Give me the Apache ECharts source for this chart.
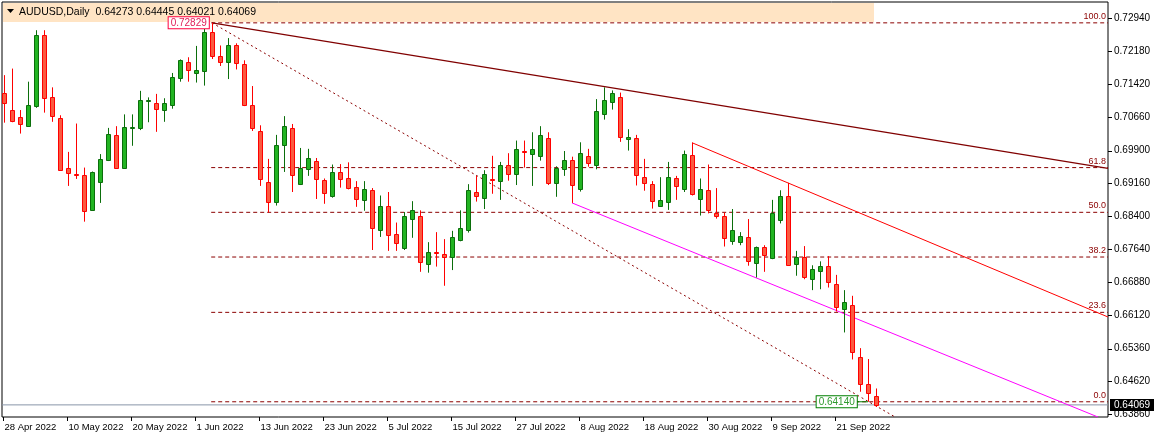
<!DOCTYPE html>
<html><head><meta charset="utf-8">
<script src="https://cdn.jsdelivr.net/npm/echarts@6/dist/echarts.min.js"></script>
<style>html,body{margin:0;padding:0;background:#fff}#c{width:1154px;height:438px}</style>
</head><body><div id="c"></div>
<script>
// ---- data ----
const dateLabels = ['28 Apr 2022','10 May 2022','20 May 2022','1 Jun 2022','13 Jun 2022','23 Jun 2022','5 Jul 2022','15 Jul 2022','27 Jul 2022','8 Aug 2022','18 Aug 2022','30 Aug 2022','9 Sep 2022','21 Sep 2022'];
const dateLabelIdx = [0,8,16,24,32,40,48,56,64,72,80,88,96,104];
const opens  = [0.7123,0.7083,0.7068,0.7047,0.7093,0.7256,0.7112,0.7065,0.6949,0.6936,0.6933,0.6854,0.6919,0.6968,0.7025,0.6951,0.7042,0.7042,0.7105,0.7100,0.7084,0.7095,0.7157,0.7194,0.7169,0.7172,0.7263,0.7208,0.7192,0.7231,0.7188,0.7094,0.7034,0.6919,0.6871,0.7002,0.7042,0.6914,0.6947,0.6965,0.6922,0.6887,0.6940,0.6926,0.6906,0.6876,0.6899,0.6807,0.6864,0.6798,0.6766,0.6834,0.6841,0.6731,0.6757,0.6754,0.6745,0.6784,0.6807,0.6894,0.6882,0.6925,0.6921,0.6957,0.6937,0.6990,0.6983,0.6977,0.7018,0.6916,0.6947,0.6968,0.6903,0.6977,0.6956,0.7074,0.7102,0.7112,0.7016,0.7018,0.6929,0.6913,0.6862,0.6871,0.6926,0.6903,0.6979,0.6880,0.6899,0.6848,0.6839,0.6782,0.6780,0.6791,0.6733,0.6768,0.6744,0.6830,0.6887,0.6731,0.6747,0.6695,0.6713,0.6725,0.6683,0.6626,0.6635,0.6516,0.6454,0.64273];
const highs  = [0.7163,0.7178,0.7083,0.7148,0.7266,0.7266,0.7135,0.7071,0.6987,0.7052,0.6951,0.6942,0.6982,0.7042,0.7046,0.7073,0.7073,0.7127,0.7112,0.7120,0.7110,0.7168,0.7199,0.7204,0.7230,0.7270,0.72829,0.7231,0.7248,0.7236,0.7197,0.7138,0.7048,0.6971,0.7026,0.7069,0.7051,0.6996,0.6994,0.6973,0.6926,0.6958,0.6959,0.6963,0.6920,0.6920,0.6904,0.6887,0.6895,0.6825,0.6849,0.6874,0.6853,0.6780,0.6803,0.6787,0.6806,0.6853,0.6913,0.6932,0.6945,0.6978,0.6964,0.6984,0.7013,0.7013,0.7032,0.7046,0.7032,0.6954,0.6989,0.6976,0.7009,0.6994,0.7108,0.7135,0.7128,0.7123,0.7039,0.7026,0.6971,0.6920,0.6929,0.6964,0.6932,0.6990,0.7008,0.6926,0.6958,0.6904,0.6848,0.6856,0.6803,0.6833,0.6770,0.6773,0.6877,0.6899,0.6916,0.6760,0.6771,0.6727,0.6736,0.6748,0.6705,0.6670,0.6657,0.6537,0.6512,0.64445];
const lows   = [0.7054,0.7055,0.7029,0.7045,0.7088,0.7077,0.7056,0.6944,0.6909,0.6925,0.6827,0.6852,0.6870,0.6966,0.6948,0.6951,0.7001,0.7037,0.7055,0.7033,0.7056,0.7086,0.7148,0.7148,0.7146,0.7139,0.7200,0.7184,0.7154,0.7176,0.7092,0.7035,0.6909,0.6848,0.6864,0.6941,0.6895,0.6911,0.6932,0.6879,0.6868,0.6882,0.6905,0.6901,0.6861,0.6852,0.6762,0.6792,0.6760,0.6760,0.6762,0.6790,0.6712,0.6710,0.6724,0.6680,0.6716,0.6782,0.6802,0.6873,0.6856,0.6891,0.6877,0.6921,0.6911,0.6951,0.6909,0.6967,0.6911,0.6884,0.6932,0.6870,0.6896,0.6953,0.6947,0.7061,0.7084,0.7010,0.6990,0.6910,0.6898,0.6857,0.6861,0.6854,0.6877,0.6895,0.6887,0.6841,0.6846,0.6834,0.6770,0.6774,0.6773,0.6726,0.6699,0.6712,0.6741,0.6823,0.6726,0.6703,0.6695,0.6670,0.6672,0.6676,0.6621,0.6573,0.6511,0.6437,0.6414,0.64021];
const closes = [0.7098,0.7058,0.7050,0.7094,0.7256,0.7111,0.7070,0.6945,0.6938,0.6935,0.6852,0.6940,0.6970,0.7029,0.6951,0.7045,0.7044,0.7107,0.7107,0.7086,0.7098,0.7158,0.7197,0.7175,0.7174,0.7263,0.7208,0.7192,0.7231,0.7190,0.7095,0.7042,0.6925,0.6871,0.7002,0.7046,0.6935,0.6951,0.6972,0.6925,0.6892,0.6942,0.6924,0.6905,0.6878,0.6903,0.6813,0.6864,0.6796,0.6777,0.6839,0.6853,0.6735,0.6757,0.6756,0.6747,0.6791,0.6812,0.6899,0.6887,0.6936,0.6924,0.6957,0.6937,0.6993,0.6989,0.6993,0.7025,0.6916,0.6949,0.6968,0.6910,0.6984,0.6961,0.7080,0.7106,0.7121,0.7022,0.7022,0.6935,0.6915,0.6874,0.6876,0.6929,0.6908,0.6982,0.6890,0.6901,0.6853,0.6841,0.6789,0.6808,0.6793,0.6736,0.6768,0.6750,0.6847,0.6887,0.6728,0.6745,0.6699,0.6718,0.6726,0.6688,0.6631,0.6642,0.6527,0.6454,0.6433,0.64069];
const yTicks = [0.72940,0.72180,0.71420,0.70660,0.69900,0.69160,0.68400,0.67640,0.66880,0.66120,0.65360,0.64620,0.63860];
const yTickLabels = ['0.72940','0.72180','0.71420','0.70660','0.69900','0.69160','0.68400','0.67640','0.66880','0.66120','0.65360','0.64620','0.63860'];
const fibHigh = 0.72829, fibLow = 0.64140;
const fibRatios = [1.0, 0.618, 0.5, 0.382, 0.236, 0.0];
const fibLabels = ['100.0','61.8','50.0','38.2','23.6','0.0'];
const lastPrice = 0.64069;
const header = 'AUDUSD,Daily  0.64273 0.64445 0.64021 0.64069';
const darkTrend = [[26, 0.72829],[138, 0.69494]];
const dottedTrend = [[26, 0.72829],[111.4, 0.6379]];
const redTrend = [[86, 0.7008],[138, 0.66084]];
const magentaTrend = [[71, 0.6870],[136.75, 0.6379]];

const XMIN = -0.25, XMAX = 138, YMIN = 0.63791, YMAX = 0.73307;
const candles = opens.map((o,i)=>[i,o,highs[i],lows[i],closes[i]]);
const FONT = 'Liberation Sans';

const chart = echarts.init(document.getElementById('c'));
function lineSeries(pts, color, type, width){
  return {type:'line', data:pts, symbol:'none', silent:true, animation:false, z:2,
    lineStyle:{color:color, width:width||1, type:type||'solid'}};
}
const fibSeries = fibRatios.map(r=>{
  const p = fibLow + r*(fibHigh-fibLow);
  return lineSeries([[25.9,p],[XMAX,p]], '#8b0000', [4,3], 1);
});
const option = {
  animation:false,
  grid:{left:2, right:46, top:2, bottom:21, show:true, borderColor:'#000', borderWidth:1, backgroundColor:'#fff'},
  xAxis:{type:'value', min:XMIN, max:XMAX, show:false},
  yAxis:{type:'value', min:YMIN, max:YMAX, show:false},
  series:[
    ...fibSeries,
    lineSeries([[XMIN,lastPrice],[XMAX,lastPrice]], '#8895a8', 'solid', 1),
    lineSeries(darkTrend, '#800000', 'solid', 1.2),
    lineSeries(dottedTrend, '#8b0000', [2,3], 1),
    lineSeries(redTrend, '#ff0000', 'solid', 1),
    lineSeries(magentaTrend, '#ff00ff', 'solid', 1),
    lineSeries([[106.6,fibLow],[108,fibLow]], '#008000', 'solid', 1),
    { type:'custom', data:candles, z:5, clip:false, animation:false,
      renderItem:(params, api)=>{
        const i=api.value(0), o=api.value(1), h=api.value(2), l=api.value(3), c=api.value(4);
        const x=Math.round(api.coord([i,o])[0]);
        const yo=api.coord([i,o])[1], yc=api.coord([i,c])[1], yh=api.coord([i,h])[1], yl=api.coord([i,l])[1];
        const bull=c>=o;
        const stroke=bull?'#0b6e0b':'#ff0000', fill=bull?'#22b422':'#fa5a40';
        const top=Math.round(Math.min(yo,yc)), bot=Math.round(Math.max(yo,yc));
        return {type:'group', children:[
          {type:'line', shape:{x1:x+0.5,y1:yh,x2:x+0.5,y2:yl}, style:{stroke:stroke,lineWidth:1}},
          {type:'rect', shape:{x:x-1.5,y:top+0.5,width:4,height:Math.max(bot-top,1)}, style:{fill:fill,stroke:stroke,lineWidth:1}}
        ]};
      }},
    { type:'custom', data:yTicks.map((v,k)=>[v,k]), z:6, clip:false, animation:false,
      renderItem:(params, api)=>{
        const v=api.value(0), k=api.value(1);
        const p=api.coord([XMAX,v]);
        return {type:'group', children:[
          {type:'line', shape:{x1:p[0],y1:Math.round(p[1])+0.5,x2:p[0]+4,y2:Math.round(p[1])+0.5}, style:{stroke:'#000',lineWidth:1}},
          {type:'text', x:p[0]+6, y:p[1], style:{text:yTickLabels[k], fill:'#000', font:'10px '+FONT, textVerticalAlign:'middle', textAlign:'left'}}
        ]};
      }},
    { type:'custom', data:dateLabelIdx.map((v,k)=>[v,k]), z:6, clip:false, animation:false,
      renderItem:(params, api)=>{
        const v=api.value(0), k=api.value(1);
        const p=api.coord([v,YMIN]);
        const x=Math.round(p[0])-0.5;
        return {type:'group', children:[
          {type:'line', shape:{x1:x,y1:p[1],x2:x,y2:p[1]+4}, style:{stroke:'#000',lineWidth:1}},
          {type:'text', x:x+1, y:p[1]+10, style:{text:dateLabels[k], fill:'#000', font:'9.5px '+FONT, textVerticalAlign:'middle', textAlign:'left'}}
        ]};
      }},
    { type:'custom', data:fibRatios.map((r,k)=>[fibLow + r*(fibHigh-fibLow),k]), z:6, clip:false, animation:false,
      renderItem:(params, api)=>{
        const v=api.value(0), k=api.value(1);
        const p=api.coord([XMAX,v]);
        return {type:'text', x:p[0]-2, y:p[1]-2, style:{text:fibLabels[k], fill:'#8b0000', font:'9px '+FONT, textVerticalAlign:'bottom', textAlign:'right'}};
      }},
    { type:'custom', data:[[25.6,fibHigh,0],[106.6,fibLow,1]], z:7, clip:false, animation:false,
      renderItem:(params, api)=>{
        const k=api.value(2);
        const p=api.coord([api.value(0),api.value(1)]);
        const txt = k===0?'0.72829':'0.64140';
        const col = k===0?'#ff0040':'#008000';
        return {type:'text', x:p[0], y:p[1], style:{text:txt, fill:k===0?'#e0205a':'#2e9a2e', font:'10px '+FONT, textVerticalAlign:'middle', textAlign:'right',
          backgroundColor:'#fff', borderColor:col, borderWidth:1, padding:[1,2,0,2]}};
      }},
    { type:'custom', data:[[XMAX,lastPrice]], z:8, clip:false, animation:false,
      renderItem:(params, api)=>{
        const p=api.coord([api.value(0),api.value(1)]);
        return {type:'text', x:p[0]+2, y:p[1], style:{text:'0.64069', fill:'#fff', font:'10px '+FONT, textVerticalAlign:'middle', textAlign:'left',
          backgroundColor:'#000', padding:[1,5,1,4]}};
      }}
  ],
  graphic:[
    {type:'rect', shape:{x:3,y:3,width:871,height:19}, style:{fill:'#ffe4c4'}, z:1},
    {type:'polygon', shape:{points:[[7,9],[14,9],[10.5,13]]}, style:{fill:'#000'}, z:10},
    {type:'text', x:19, y:12.5, style:{text:header, fill:'#000', font:'10.5px '+FONT, textVerticalAlign:'middle'}, z:10}
  ]
};
chart.setOption(option);
</script></body></html>
